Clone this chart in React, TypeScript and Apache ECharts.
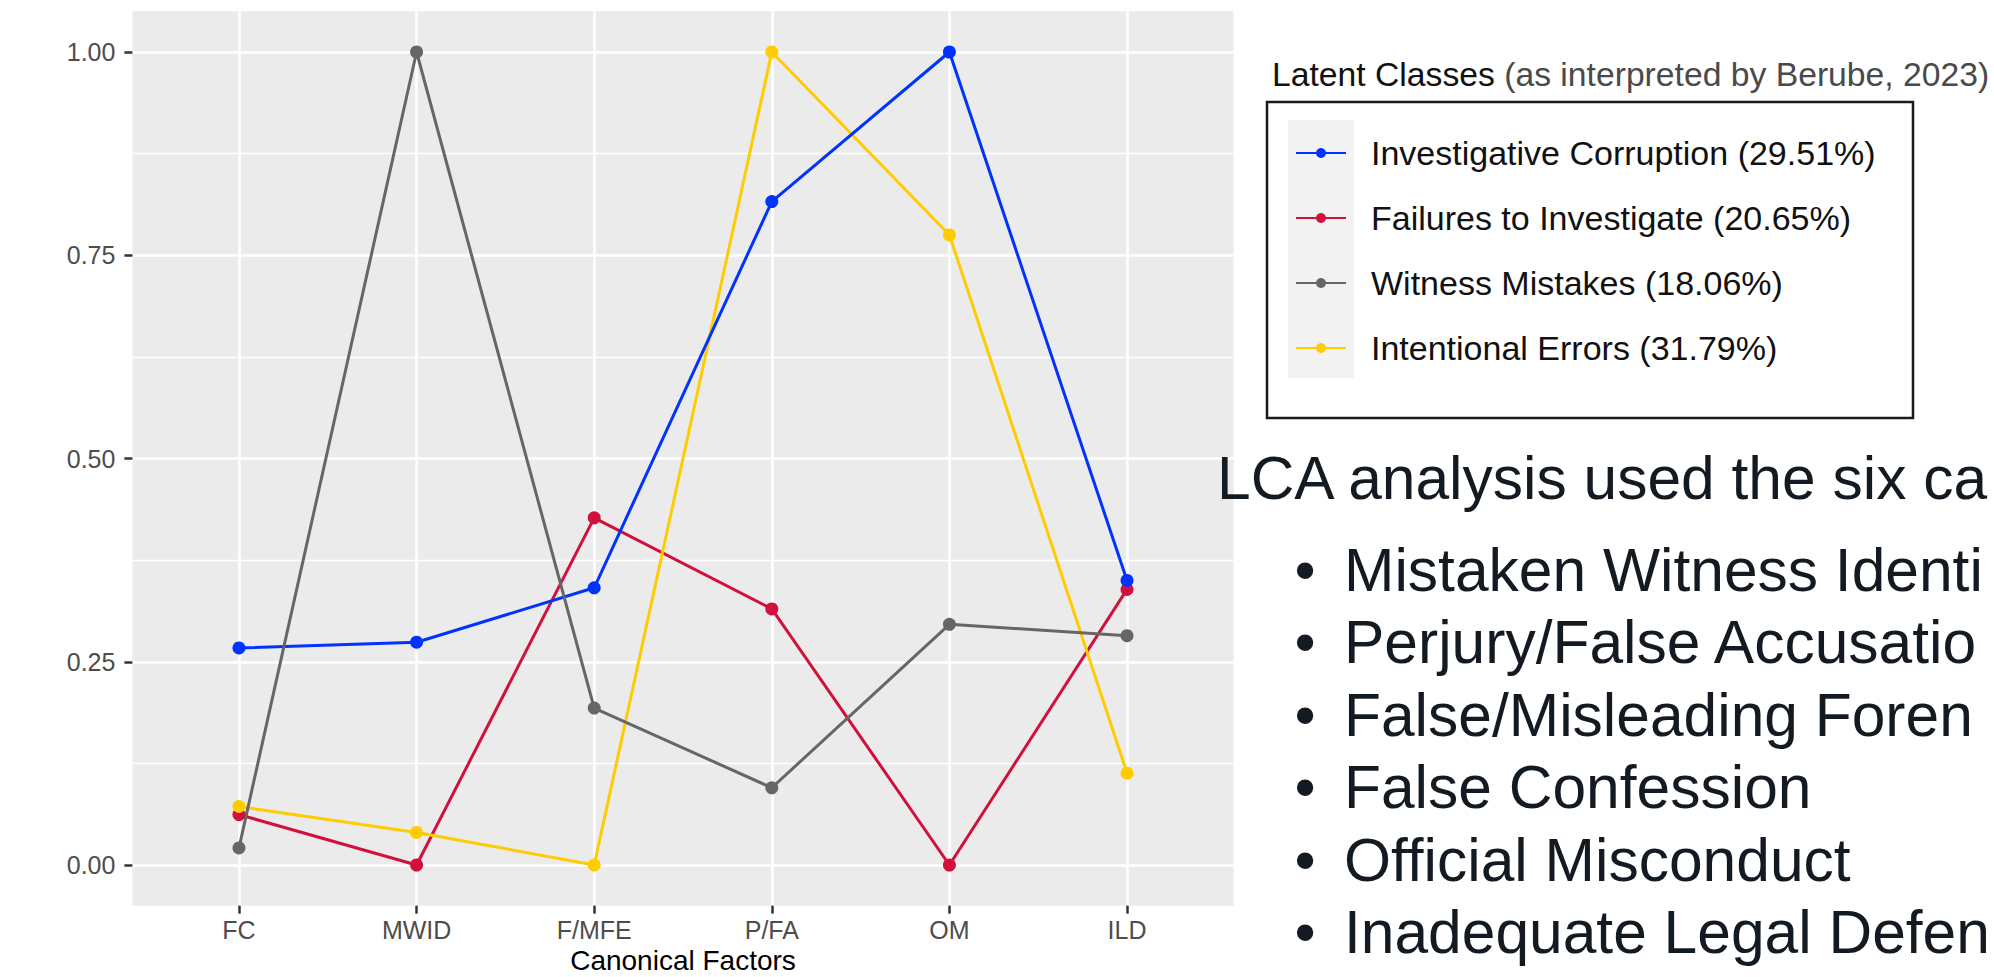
import React, { useEffect, useRef } from 'react';
import * as echarts from 'echarts';

const categories = ['FC', 'MWID', 'F/MFE', 'P/FA', 'OM', 'ILD'];
const investigativeCorruption = [0.267, 0.274, 0.341, 0.816, 1.0, 0.35];
const failuresToInvestigate = [0.062, 0.0, 0.427, 0.315, 0.0, 0.339];
const witnessMistakes = [0.021, 1.0, 0.193, 0.095, 0.296, 0.282];
const intentionalErrors = [0.072, 0.04, 0.0, 1.0, 0.775, 0.113];

const yMajorTicks = [0, 0.25, 0.5, 0.75, 1];
const yMinorTicks = [0.125, 0.375, 0.625, 0.875];

const seriesNames = [
  'Investigative Corruption (29.51%)',
  'Failures to Investigate (20.65%)',
  'Witness Mistakes (18.06%)',
  'Intentional Errors (31.79%)',
];
const seriesColors = ['#0033FF', '#D2103C', '#666666', '#FFCC00'];
const seriesValues = [investigativeCorruption, failuresToInvestigate, witnessMistakes, intentionalErrors];
// ggplot draws groups in alphabetical order
const drawOrder = [1, 3, 0, 2];

const xAxisTitle = 'Canonical Factors';
const legendTitle = 'Latent Classes';
const legendSubtitle = '(as interpreted by Berube, 2023)';
// the slide text runs past the right edge of the picture; only the visible part is kept
const noteHeading = 'LCA analysis used the six ca';
const noteItems = [
  'Mistaken Witness Identi',
  'Perjury/False Accusatio',
  'False/Misleading Foren',
  'False Confession',
  'Official Misconduct',
  'Inadequate Legal Defen',
];

const FONT = 'Liberation Sans, Arial, Helvetica, sans-serif';

export default function App() {
  const ref = useRef<HTMLDivElement>(null);

  useEffect(() => {
    if (!ref.current) return;
    const chart = echarts.init(ref.current, null, { renderer: 'svg' });

    const series = drawOrder.map((k) => ({
      type: 'line',
      name: seriesNames[k],
      data: categories.map((_, i) => [i, seriesValues[k][i]]),
      symbol: 'circle',
      symbolSize: 13,
      showSymbol: true,
      lineStyle: { color: seriesColors[k], width: 3 },
      itemStyle: { color: seriesColors[k], borderWidth: 0 },
      emphasis: { disabled: true },
      silent: true,
      yAxisIndex: 0,
    }));

    const graphics: any[] = [
      {
        type: 'rect',
        shape: { x: 1267, y: 102, width: 646, height: 316 },
        style: { fill: '#FFFFFF', stroke: '#1A1A1A', lineWidth: 2.5 },
        z: 1,
      },
      {
        type: 'rect',
        shape: { x: 1288, y: 120, width: 66, height: 258 },
        style: { fill: '#F2F2F2' },
        z: 2,
      },
      {
        type: 'text',
        x: 1272,
        y: 74,
        style: {
          text: `{a|${legendTitle}} {b|${legendSubtitle}}`,
          verticalAlign: 'middle',
          align: 'left',
          fontSize: 33.7,
          fontFamily: FONT,
          rich: {
            a: { fontSize: 33.7, fontFamily: FONT, fill: '#111111', color: '#111111' },
            b: { fontSize: 33.7, fontFamily: FONT, fill: '#4A4A4A', color: '#4A4A4A' },
          },
        },
        z: 3,
      },
      {
        type: 'text',
        x: 1217,
        y: 478,
        style: {
          text: noteHeading,
          fontSize: 60.5,
          fontFamily: FONT,
          fill: '#141A22',
          verticalAlign: 'middle',
          align: 'left',
        },
        z: 3,
      },
    ];
    noteItems.forEach((item, i) => {
      const y = 570 + 72.4 * i;
      graphics.push({
        type: 'text',
        x: 1305,
        y,
        style: { text: '\u2022', fontSize: 60.5, fontFamily: FONT, fill: '#141A22', align: 'center', verticalAlign: 'middle' },
        z: 3,
      });
      graphics.push({
        type: 'text',
        x: 1344,
        y,
        style: { text: item, fontSize: 60.5, fontFamily: FONT, fill: '#141A22', align: 'left', verticalAlign: 'middle' },
        z: 3,
      });
    });

    const tickStyle = { color: '#333333', width: 2.5 };

    chart.setOption({
      animation: false,
      backgroundColor: '#FFFFFF',
      textStyle: { fontFamily: FONT },
      grid: {
        left: 132.4,
        right: 760.4,
        top: 11.35,
        bottom: 71.35,
        show: true,
        backgroundColor: '#EBEBEB',
        borderWidth: 0,
        containLabel: false,
        outerBoundsMode: 'none',
      },
      xAxis: {
        type: 'value',
        min: -0.6,
        max: 5.6,
        axisLine: { show: true, onZero: false, lineStyle: { color: 'rgba(0,0,0,0)', width: 0 } },
        axisTick: {
          show: true,
          inside: false,
          customValues: categories.map((_, i) => i),
          length: 8,
          lineStyle: tickStyle,
        },
        axisLabel: {
          customValues: categories.map((_, i) => i),
          formatter: (v: number) => categories[Math.round(v)] ?? '',
          color: '#4D4D4D',
          fontSize: 25,
          fontFamily: FONT,
          margin: 12,
        },
        splitLine: { show: true, lineStyle: { color: '#FFFFFF', width: 2.6 } },
        name: xAxisTitle,
        nameLocation: 'middle',
        nameGap: 41,
        nameMoveOverlap: false,
        nameTextStyle: { fontSize: 28, lineHeight: 28, color: '#000000', fontFamily: FONT },
      },
      yAxis: [
        {
          type: 'value',
          min: -0.05,
          max: 1.05,
          axisLine: { show: true, onZero: false, lineStyle: { color: 'rgba(0,0,0,0)', width: 0 } },
          axisTick: {
            show: true,
            inside: false,
            customValues: yMajorTicks,
            length: 8,
            lineStyle: tickStyle,
          },
          axisLabel: {
            customValues: yMajorTicks,
            formatter: (v: number) => v.toFixed(2),
            color: '#4D4D4D',
            fontSize: 25,
            fontFamily: FONT,
            margin: 17,
          },
          splitLine: { show: true, lineStyle: { color: '#FFFFFF', width: 2.6 } },
          z: 1,
        },
        {
          type: 'value',
          min: -0.05,
          max: 1.05,
          position: 'left',
          axisLine: { show: false, onZero: false },
          axisTick: { show: false, customValues: yMinorTicks },
          axisLabel: { show: false, customValues: yMinorTicks },
          splitLine: { show: true, lineStyle: { color: '#FFFFFF', width: 1.3 } },
          z: 0,
        },
      ],
      legend: {
        orient: 'vertical',
        left: 1295,
        top: 133,
        padding: 0,
        itemWidth: 50,
        itemHeight: 12.5,
        itemGap: 25,
        selectedMode: false,
        data: seriesNames,
        textStyle: {
          fontSize: 34,
          fontFamily: FONT,
          color: '#111111',
          lineHeight: 40,
          padding: [0, 0, 0, 20],
        },
        z: 5,
      },
      graphic: { elements: graphics },
      series,
    });

    return () => chart.dispose();
  }, []);

  return (
    <div
      ref={ref}
      style={{ position: 'fixed', left: 0, top: 0, width: 1994, height: 977, background: '#FFFFFF' }}
    />
  );
}
